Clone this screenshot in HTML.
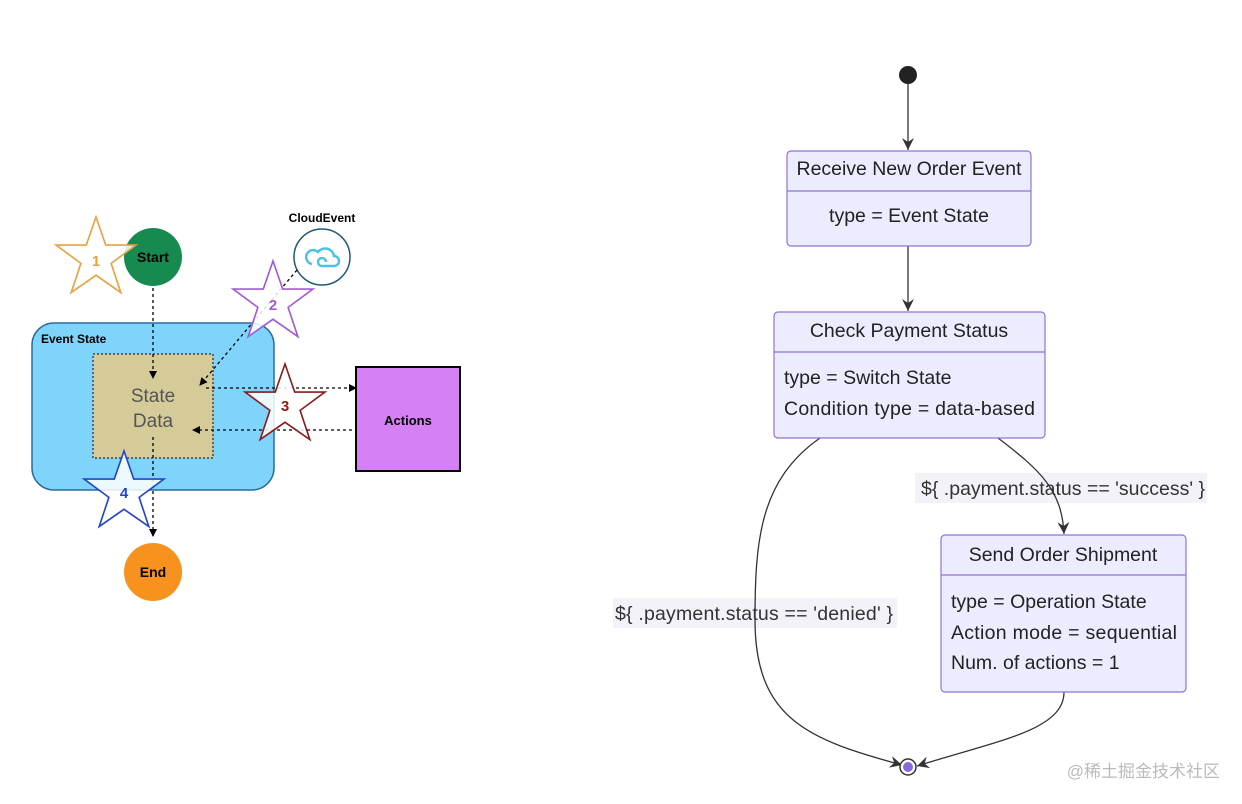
<!DOCTYPE html>
<html><head><style>body{margin:0;background:#fff}svg{display:block}text{font-family:"Liberation Sans",sans-serif}</style></head><body>
<svg width="1242" height="804" viewBox="0 0 1242 804" xmlns="http://www.w3.org/2000/svg">
<defs>
<marker id="a" markerWidth="8" markerHeight="8" refX="7" refY="4" orient="auto" markerUnits="userSpaceOnUse"><path d="M0,0L8,4L0,8z" fill="#000"/></marker>
<marker id="b" markerWidth="14" markerHeight="14" refX="12" refY="7" orient="auto" markerUnits="userSpaceOnUse"><path d="M0,1L12,7L0,13L4,7z" fill="#333"/></marker>
</defs>
<rect x="32" y="323" width="242" height="167" rx="22" fill="#7fd4fb" stroke="#2b6d9c" stroke-width="1.5"/>
<text x="41" y="343" font-size="12" font-weight="bold">Event State</text>
<rect x="93" y="354" width="120" height="104" fill="#d5cb99" stroke="#444" stroke-width="1.5" stroke-dasharray="2,2"/>
<text x="153" y="402" font-size="19" fill="#555" text-anchor="middle">State</text>
<text x="153" y="427" font-size="19" fill="#555" text-anchor="middle">Data</text>
<rect x="356" y="367" width="104" height="104" fill="#d580f5" stroke="#000" stroke-width="2"/>
<text x="408" y="425" font-size="13" font-weight="bold" text-anchor="middle">Actions</text>
<circle cx="153" cy="257" r="29" fill="#178a4f"/>
<text x="153" y="262" font-size="14" font-weight="bold" text-anchor="middle">Start</text>
<circle cx="153" cy="572" r="29" fill="#f7921e"/>
<text x="153" y="577" font-size="14" font-weight="bold" text-anchor="middle">End</text>
<circle cx="322" cy="257" r="28" fill="#fff" stroke="#1f5a7a" stroke-width="1.5"/>
<text x="322" y="222" font-size="12" font-weight="bold" text-anchor="middle">CloudEvent</text>
<path d="M312,264a7,7 0 1 1 6,-12a9,9 0 0 1 16,4a5,5 0 0 1 0,10h-12a4,4 0 1 1 4,-4" fill="none" stroke="#4cc3e6" stroke-width="2.5"/>
<g fill="none" stroke="#000" stroke-width="1.3" stroke-dasharray="3,3">
<line x1="153" y1="288" x2="153" y2="378" marker-end="url(#a)"/>
<line x1="153" y1="437" x2="153" y2="536" marker-end="url(#a)"/>
<line x1="297" y1="270" x2="200" y2="385" marker-end="url(#a)"/>
<line x1="206" y1="388" x2="356" y2="388" marker-end="url(#a)"/>
<line x1="352" y1="430" x2="193" y2="430" marker-end="url(#a)"/>
</g>
<g fill="#fff" fill-opacity="0.85" stroke-width="1.5">
<polygon transform="translate(96,258) scale(1.08)" stroke="#e8a040" points="0,-38 9,-12 37,-12 14,5 23,32 0,16 -23,32 -14,5 -37,-12 -9,-12"/>
<polygon transform="translate(273,302) scale(1.08)" stroke="#a05ad8" points="0,-38 9,-12 37,-12 14,5 23,32 0,16 -23,32 -14,5 -37,-12 -9,-12"/>
<polygon transform="translate(285,405) scale(1.08)" stroke="#8a1c1c" points="0,-38 9,-12 37,-12 14,5 23,32 0,16 -23,32 -14,5 -37,-12 -9,-12"/>
<polygon transform="translate(124,492) scale(1.08)" stroke="#2244c8" points="0,-38 9,-12 37,-12 14,5 23,32 0,16 -23,32 -14,5 -37,-12 -9,-12"/>
</g>
<text x="96" y="266" font-size="15" font-weight="bold" fill="#e8a040" text-anchor="middle">1</text>
<text x="273" y="310" font-size="15" font-weight="bold" fill="#a05ad8" text-anchor="middle">2</text>
<text x="285" y="411" font-size="15" font-weight="bold" fill="#8a1c1c" text-anchor="middle">3</text>
<text x="124" y="498" font-size="15" font-weight="bold" fill="#2244c8" text-anchor="middle">4</text>
<circle cx="908" cy="75" r="9" fill="#222"/>
<line x1="908" y1="84" x2="908" y2="150" stroke="#333" stroke-width="1.3" marker-end="url(#b)"/>
<line x1="908" y1="246" x2="908" y2="311" stroke="#333" stroke-width="1.3" marker-end="url(#b)"/>
<rect x="613" y="598" width="284" height="30" fill="#f2f2f8"/>
<rect x="915" y="473" width="292" height="30" fill="#f2f2f8"/>
<g fill="none" stroke="#333" stroke-width="1.3">
<path d="M820,438C760,480 755,540 755,620C755,720 810,740 902,765" marker-end="url(#b)"/>
<path d="M998,438C1040,470 1062,490 1064,534" marker-end="url(#b)"/>
<path d="M1064,692C1064,730 1000,740 917,766" marker-end="url(#b)"/>
</g>
<g fill="#ececff" stroke="#9370db" stroke-width="1.2">
<rect x="787" y="151" width="244" height="95" rx="4"/>
<rect x="774" y="312" width="271" height="126" rx="4"/>
<rect x="941" y="535" width="245" height="157" rx="4"/>
</g>
<g stroke="#9370db" stroke-width="1.2">
<line x1="787" y1="191" x2="1031" y2="191"/>
<line x1="774" y1="352" x2="1045" y2="352"/>
<line x1="941" y1="575" x2="1186" y2="575"/>
</g>
<g font-size="19.5" fill="#222">
<text x="909" y="175" text-anchor="middle" textLength="225">Receive New Order Event</text>
<text x="909" y="222" text-anchor="middle">type = Event State</text>
<text x="909" y="337" text-anchor="middle">Check Payment Status</text>
<text x="784" y="384">type = Switch State</text>
<text x="784" y="415" textLength="251">Condition type = data-based</text>
<text x="1063" y="561" text-anchor="middle">Send Order Shipment</text>
<text x="951" y="608">type = Operation State</text>
<text x="951" y="639" textLength="226">Action mode = sequential</text>
<text x="951" y="669">Num. of actions = 1</text>
<text x="921" y="495" fill="#333" textLength="284">${ .payment.status == 'success' }</text>
<text x="615" y="620" fill="#333" textLength="278">${ .payment.status == 'denied' }</text>
</g>
<circle cx="908" cy="767" r="8" fill="#fff" stroke="#333" stroke-width="1.5"/>
<circle cx="908" cy="767" r="5" fill="#8a6ad8"/>
<text x="1220" y="777" font-size="17" fill="#bbb" text-anchor="end" font-family="Liberation Sans,'Noto Sans CJK SC',sans-serif">@稀土掘金技术社区</text>
</svg>
</body></html>
